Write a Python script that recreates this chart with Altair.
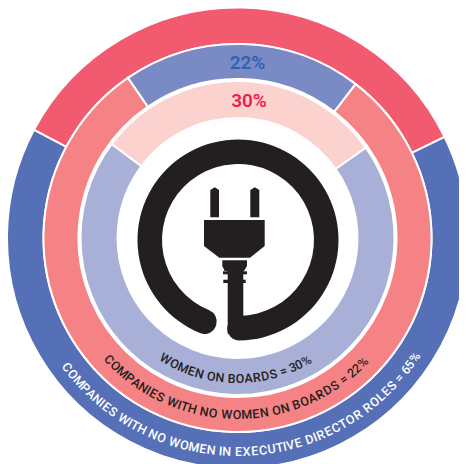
import math
import altair as alt
import pandas as pd

W, H = 451, 456
CX, CY = 229.5, 230.0      # ring centre in plot px
PX, PY = 230.0, 232.0      # plug ring centre in plot px

# --- rings (angles read clockwise from 12 o'clock, degrees) ---
ring_names = ["outer_top", "outer_rest", "mid_top", "mid_rest", "inner_top", "inner_rest"]
ring_start = [-62.0, 64.0, -34.4, 37.5, -53.3, 54.9]
ring_end = [64.0, 298.0, 37.5, 325.6, 54.9, 306.7]
ring_r_out = [230.5, 230.5, 194.0, 194.0, 157.0, 157.0]
ring_r_in = [194.0, 194.0, 159.0, 159.0, 120.0, 120.0]
ring_colors = ["#F15A6F", "#5670B8", "#7A8AC4", "#F58385", "#FBD2CD", "#A8B0D8"]

# --- curved captions ---
captions = [
    "WOMEN ON BOARDS = 30%",
    "COMPANIES WITH NO WOMEN ON BOARDS = 22%",
    "COMPANIES WITH NO WOMEN IN EXECUTIVE DIRECTOR ROLES = 65%",
]
caption_start = [213.0, 228.0, 234.0]
caption_end = [148.5, 133.0, 122.5]
caption_r = [145.0, 181.0, 218.0]
caption_colors = ["#231F20", "#231F20", "#FFFFFF"]

# --- callouts ---
callout_text = ["22%", "30%"]
callout_x = [239.5, 241.0]
callout_y = [61.0, 98.5]
callout_colors = ["#2E62B2", "#EE1C50"]

# --- plug parts: outline x, top y, bottom y (screen px minus page margin) ---
plug_parts = {
    "prong_l": ([202.3, 206.8, 211.0], [182.0, 179.3, 182.0], [209.3, 209.3, 209.3]),
    "prong_r": ([242.3, 246.8, 251.3], [182.0, 179.3, 182.0], [209.3, 209.3, 209.3]),
    "body": ([196.0, 211.3, 242.0, 256.7], [212.0, 212.0, 212.0, 212.0], [238.0, 249.7, 249.7, 238.0]),
    "collar": ([214.3, 216.7, 236.0, 239.0], [252.3, 252.3, 252.3, 252.3], [258.0, 263.0, 263.0, 258.0]),
    "rib1": ([215.0, 239.0], [263.3, 263.3], [266.3, 266.3]),
    "rib2": ([215.3, 237.7], [271.7, 271.7], [275.0, 275.0]),
    "cord": ([219.7, 235.3], [258.0, 258.0], [326.0, 326.0]),
}

CHAR_W = {"A": 667, "B": 667, "C": 722, "D": 722, "E": 667, "F": 611, "G": 778, "H": 722, "I": 278,
          "J": 500, "K": 667, "L": 556, "M": 833, "N": 722, "O": 778, "P": 667, "Q": 778, "R": 722,
          "S": 667, "T": 611, "U": 722, "V": 667, "W": 944, "X": 667, "Y": 667, "Z": 611, " ": 278,
          "=": 584, "%": 889}
for d in "0123456789":
    CHAR_W[d] = 556

rings = pd.DataFrame({"name": ring_names, "start": ring_start, "end": ring_end,
                      "outer": ring_r_out, "inner": ring_r_in})

x_scale = alt.Scale(domain=[0, W], range=[0, W], nice=False, zero=False)
y_scale = alt.Scale(domain=[0, H], range=[0, H], nice=False, zero=False)
theta_scale = alt.Scale(domain=[0, 360], range=[0, 2 * math.pi])

ring_layer = alt.Chart(rings).mark_arc(stroke="white", strokeWidth=2).encode(
    x=alt.value(CX), y=alt.value(CY),
    theta=alt.Theta("start:Q", scale=theta_scale, stack=None),
    theta2=alt.Theta2("end:Q"),
    radius=alt.Radius("outer:Q", scale=None),
    radius2=alt.Radius2("inner:Q"),
    color=alt.Color("name:N", scale=alt.Scale(domain=ring_names, range=ring_colors), legend=None),
)

cord_ring = pd.DataFrame({"start": [194.4], "end": [547.0], "outer": [100.5], "inner": [76.0]})
cord_layer = alt.Chart(cord_ring).mark_arc(color="#231F20", cornerRadius=12).encode(
    x=alt.value(PX), y=alt.value(PY),
    theta=alt.Theta("start:Q", scale=theta_scale, stack=None),
    theta2=alt.Theta2("end:Q"),
    radius=alt.Radius("outer:Q", scale=None),
    radius2=alt.Radius2("inner:Q"),
)

rows = []
for name, (xs, ys, y2s) in plug_parts.items():
    for a, b, c in zip(xs, ys, y2s):
        rows.append({"part": name, "x": a, "y": b, "y2": c})
plug_layer = alt.Chart(pd.DataFrame(rows)).mark_area(color="#231F20", interpolate="linear").encode(
    x=alt.X("x:Q", scale=x_scale, axis=None),
    y=alt.Y("y:Q", scale=y_scale, axis=None, stack=None),
    y2="y2:Q",
    detail="part:N",
)

chars = []
for text, t0, t1, r, col in zip(captions, caption_start, caption_end, caption_r, caption_colors):
    total = sum(CHAR_W[c] for c in text)
    run = 0
    for c in text:
        w = CHAR_W[c]
        t = t0 + (t1 - t0) * (run + w / 2) / total
        run += w
        if c != " ":
            rad = math.radians(t)
            chars.append({"ch": c, "x": CX + r * math.sin(rad), "y": CY - r * math.cos(rad),
                          "angle": (t - 180) % 360, "col": col})
char_layer = alt.Chart(pd.DataFrame(chars)).mark_text(
    font="Roboto", fontSize=12.5, fontWeight=500, align="center", baseline="alphabetic"
).encode(
    x=alt.X("x:Q", scale=x_scale, axis=None),
    y=alt.Y("y:Q", scale=y_scale, axis=None),
    text="ch:N",
    angle=alt.Angle("angle:Q", scale=None),
    color=alt.Color("col:N", scale=None),
)

callouts = pd.DataFrame({"t": callout_text, "x": callout_x, "y": callout_y, "col": callout_colors})
callout_layer = alt.Chart(callouts).mark_text(
    font="Roboto", fontSize=19, fontWeight=600, align="center", baseline="alphabetic"
).encode(
    x=alt.X("x:Q", scale=x_scale, axis=None),
    y=alt.Y("y:Q", scale=y_scale, axis=None),
    text="t:N",
    color=alt.Color("col:N", scale=None),
)

chart = alt.layer(ring_layer, cord_layer, plug_layer, char_layer, callout_layer).resolve_scale(
    color="independent"
).properties(
    width=W, height=H, padding=0,
    autosize=alt.AutoSizeParams(type="none", contains="padding"),
).configure_view(stroke=None)

chart.save("out.html", embed_options={"renderer": "svg", "actions": False})
